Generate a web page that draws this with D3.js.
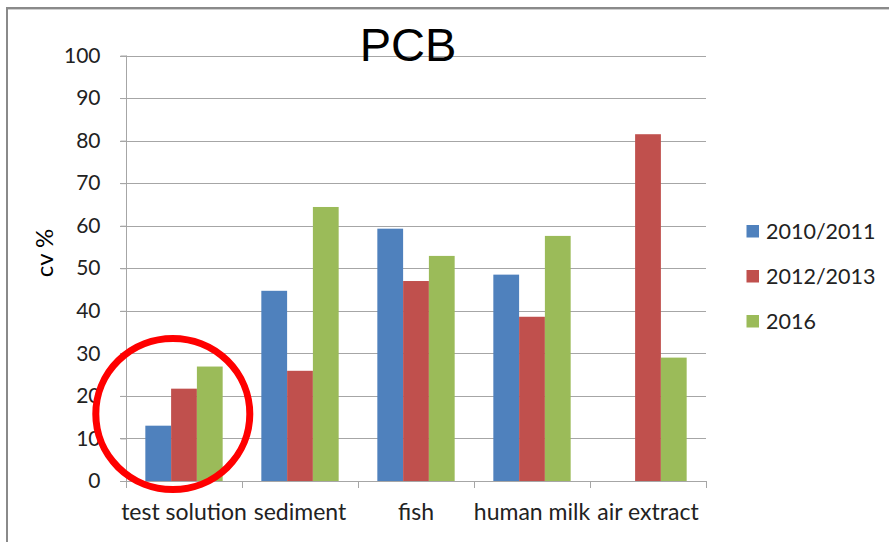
<!DOCTYPE html>
<html><head><meta charset="utf-8">
<script src="https://cdn.jsdelivr.net/npm/d3@7"></script>
<style>body{margin:0;background:#fff}svg{display:block}</style>
</head><body>
<svg id="c" width="889" height="542"></svg>
<script>
const categories = ["test solution","sediment","fish","human milk","air extract"];
const seriesNames = ["2010/2011","2012/2013","2016"];
const s2010 = [13.0, 44.7, 59.3, 48.5, null];
const s2012 = [21.7, 25.9, 47.0, 38.6, 81.5];
const s2016 = [26.9, 64.4, 52.9, 57.6, 29.0];
const colors = ["#4F81BD","#C0504D","#9BBB59"];
const yTicks = [0,10,20,30,40,50,60,70,80,90,100];
const title = "PCB";
const yLabel = "cv %";

const series = [s2010, s2012, s2016];
const svg = d3.select("#c");
const font = "Lato, 'Liberation Sans', sans-serif";

// frame
svg.append("line").attr("x1",7).attr("x2",889).attr("y1",8).attr("y2",8).attr("stroke","#8a8a8a").attr("stroke-width",2);
svg.append("line").attr("x1",7).attr("x2",889).attr("y1",9.5).attr("y2",9.5).attr("stroke","#cfcfcf").attr("stroke-width",1);
svg.append("line").attr("x1",7).attr("x2",7).attr("y1",7).attr("y2",542).attr("stroke","#8a8a8a").attr("stroke-width",2);

const x = d3.scaleBand().domain(categories).range([126,706]).paddingInner(0).paddingOuter(0);
const y = d3.scaleLinear().domain([0,100]).range([481,55.5]);

// gridlines
svg.append("g").selectAll("line").data(yTicks.slice(1)).join("line")
  .attr("x1",120).attr("x2",706).attr("y1",d=>Math.round(y(d))+0.5).attr("y2",d=>Math.round(y(d))+0.5)
  .attr("stroke","#a6a6a6").attr("stroke-width",1.2);

// y axis
const ya = svg.append("g").attr("transform","translate(126.5,0)")
  .call(d3.axisLeft(y).tickValues(yTicks).tickSize(6).tickPadding(20));
ya.select(".domain").attr("stroke","#a6a6a6").attr("d","M0,"+y(100)+"V"+y(0));
ya.selectAll(".tick line").attr("stroke","#a6a6a6");
ya.selectAll("text").attr("font-family",font).attr("font-size",21).attr("fill","#222");

// bars
const bw = x.bandwidth()/4.5;
series.forEach((s,i)=>{
  svg.append("g").selectAll("rect").data(categories.map((c,j)=>({c,v:s[j]})).filter(d=>d.v!=null)).join("rect")
    .attr("x",d=>x(d.c)+0.75*bw+i*bw)
    .attr("width",bw)
    .attr("y",d=>y(d.v)).attr("height",d=>y(0)-y(d.v))
    .attr("fill",colors[i]);
});

// x axis
const xa = svg.append("g").attr("transform","translate(0,481.5)")
  .call(d3.axisBottom(x).tickSize(0).tickPadding(22));
xa.select(".domain").attr("stroke","#a6a6a6").attr("d","M120,0H706");
xa.selectAll("text").attr("font-family",font).attr("font-size",23).attr("fill","#222");
svg.append("g").selectAll("line").data(categories.map(c=>x(c)).concat([706])).join("line")
  .attr("x1",d=>Math.round(d)+0.5).attr("x2",d=>Math.round(d)+0.5).attr("y1",481).attr("y2",488)
  .attr("stroke","#a6a6a6");

// title
svg.append("text").attr("x",408).attr("y",61).attr("text-anchor","middle")
  .attr("font-family","'Liberation Sans', Arial, sans-serif").attr("font-size",47).attr("fill","#000").text(title);

// y label
svg.append("text").attr("transform","translate(53,253) rotate(-90)").attr("text-anchor","middle")
  .attr("font-family",font).attr("font-size",24).attr("fill","#000").text(yLabel);

// legend
const lg = svg.append("g");
seriesNames.forEach((n,i)=>{
  const cy = 231 + i*45;
  lg.append("rect").attr("x",746.5).attr("y",cy-6).attr("width",12.5).attr("height",12.5).attr("fill",colors[i]);
  lg.append("text").attr("x",766).attr("y",cy+8).attr("font-family",font).attr("font-size",21.5).attr("fill","#222").text(n);
});

// red circle annotation
svg.append("ellipse").attr("cx",172.8).attr("cy",414).attr("rx",77).attr("ry",75.5)
  .attr("fill","none").attr("stroke","#FF0000").attr("stroke-width",7);
</script>
</body></html>
